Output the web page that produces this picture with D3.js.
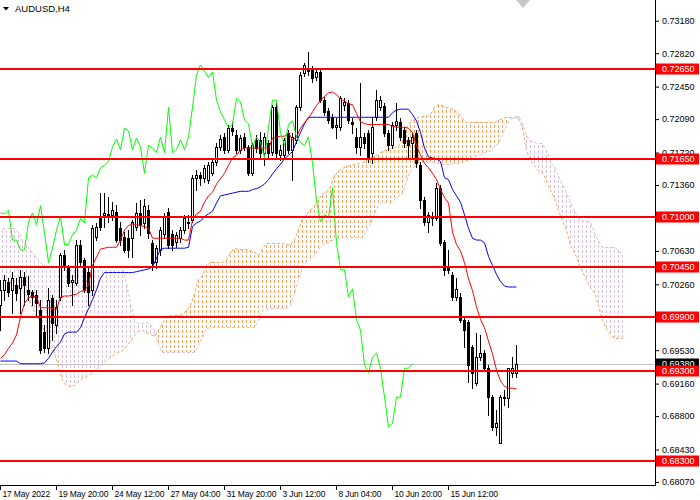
<!DOCTYPE html>
<html><head><meta charset="utf-8">
<script src="https://cdn.jsdelivr.net/npm/d3@7"></script>
<style>body{margin:0;background:#fff}svg{display:block}</style>
</head><body><svg id="c" width="700" height="500"></svg>
<script>
const title = "AUDUSD,H4";
const xTickIdx = [0,14,28,42,56,70,84,98,112];
const xTickLabels = ["17 May 2022","19 May 20:00","24 May 12:00","27 May 04:00","31 May 20:00","3 Jun 12:00","8 Jun 04:00","10 Jun 20:00","15 Jun 12:00"];
const yTicks = [0.7318,0.7282,0.7245,0.7209,0.7172,0.7136,0.7063,0.7026,0.6953,0.6916,0.6880,0.6843,0.6807];
const levels = [0.7265,0.7165,0.7100,0.7045,0.6990,0.6930,0.6830];
const currentPrice = 0.6938;

const opens = [0.7003,0.7020,0.7029,0.7020,0.7025,0.7022,0.7034,0.7020,0.7018,0.7014,
0.6998,0.6973,0.6955,0.7011,0.6981,0.7012,0.7059,0.7044,0.7029,0.7027,
0.7070,0.7053,0.7040,0.7020,0.7078,0.7101,0.7103,0.7103,0.7103,0.7106,
0.7088,0.7078,0.7077,0.7077,0.7090,0.7105,0.7094,0.7108,0.7072,0.7051,
0.7064,0.7082,0.7106,0.7082,0.7073,0.7077,0.7086,0.7095,0.7097,0.7144,
0.7147,0.7144,0.7142,0.7149,0.7162,0.7178,0.7189,0.7175,0.7199,0.7191,
0.7175,0.7189,0.7178,0.7149,0.7186,0.7186,0.7172,0.7183,0.7173,0.7222,
0.7169,0.7169,0.7194,0.7175,0.7186,0.7222,0.7260,0.7265,0.7265,0.7256,
0.7261,0.7230,0.7218,0.7211,0.7200,0.7200,0.7225,0.7227,0.7206,0.7189,
0.7178,0.7189,0.7194,0.7172,0.7211,0.7222,0.7224,0.7194,0.7180,0.7203,
0.7206,0.7197,0.7186,0.7183,0.7194,0.7158,0.7119,0.7095,0.7101,0.7099,
0.7133,0.7073,0.7044,0.7036,0.7012,0.7012,0.6987,0.6984,0.6957,0.6917,
0.6945,0.6950,0.6933,0.6901,0.6868,0.6850,0.6900,0.6900,0.6928,0.6928];
const highs = [0.7031,0.7036,0.7033,0.7040,0.7033,0.7042,0.7040,0.7035,0.7020,0.7020,
0.7009,0.6981,0.7022,0.7014,0.7009,0.7061,0.7064,0.7047,0.7036,0.7075,
0.7075,0.7055,0.7044,0.7092,0.7094,0.7127,0.7127,0.7123,0.7117,0.7114,
0.7095,0.7084,0.7086,0.7097,0.7116,0.7119,0.7121,0.7114,0.7075,0.7070,
0.7090,0.7105,0.7111,0.7086,0.7084,0.7090,0.7103,0.7103,0.7147,0.7153,
0.7150,0.7158,0.7162,0.7166,0.7183,0.7191,0.7194,0.7203,0.7206,0.7197,
0.7191,0.7194,0.7180,0.7183,0.7191,0.7195,0.7194,0.7186,0.7225,0.7227,
0.7180,0.7188,0.7197,0.7194,0.7225,0.7261,0.7271,0.7283,0.7268,0.7266,
0.7263,0.7234,0.7221,0.7215,0.7210,0.7235,0.7232,0.7230,0.7210,0.7199,
0.7249,0.7194,0.7197,0.7211,0.7241,0.7235,0.7227,0.7197,0.7206,0.7227,
0.7210,0.7200,0.7189,0.7194,0.7197,0.7162,0.7123,0.7106,0.7106,0.7138,
0.7136,0.7075,0.7064,0.7040,0.7033,0.7016,0.6989,0.6987,0.6959,0.6972,
0.6970,0.6953,0.6937,0.6903,0.6887,0.6903,0.6909,0.6933,0.6945,0.6959];
const lows = [0.6975,0.7009,0.7013,0.6994,0.7009,0.6994,0.7003,0.7009,0.7003,0.6992,
0.6950,0.6951,0.6950,0.6964,0.6972,0.7009,0.7042,0.7024,0.7003,0.7025,
0.7047,0.7018,0.7003,0.7014,0.7075,0.7086,0.7090,0.7095,0.7097,0.7073,
0.7070,0.7062,0.7056,0.7056,0.7086,0.7081,0.7088,0.7077,0.7042,0.7044,
0.7059,0.7077,0.7066,0.7064,0.7067,0.7073,0.7083,0.7088,0.7095,0.7131,
0.7136,0.7139,0.7138,0.7147,0.7158,0.7175,0.7172,0.7173,0.7191,0.7172,
0.7172,0.7175,0.7147,0.7147,0.7173,0.7166,0.7158,0.7166,0.7169,0.7166,
0.7164,0.7166,0.7172,0.7142,0.7183,0.7219,0.7257,0.7258,0.7250,0.7252,
0.7228,0.7214,0.7205,0.7199,0.7188,0.7197,0.7219,0.7205,0.7194,0.7172,
0.7169,0.7177,0.7162,0.7160,0.7208,0.7219,0.7190,0.7175,0.7177,0.7197,
0.7186,0.7178,0.7167,0.7166,0.7156,0.7111,0.7092,0.7084,0.7092,0.7097,
0.7070,0.7036,0.7039,0.7009,0.7009,0.6984,0.6957,0.6918,0.6911,0.6915,
0.6942,0.6931,0.6881,0.6865,0.6859,0.6850,0.6892,0.6890,0.6923,0.6923];
const closes = [0.7020,0.7031,0.7018,0.7033,0.7016,0.7034,0.7025,0.7015,0.7012,0.7005,
0.6953,0.6955,0.7009,0.6983,0.7001,0.7059,0.7047,0.7027,0.7031,0.7070,
0.7051,0.7020,0.7018,0.7088,0.7090,0.7090,0.7105,0.7104,0.7108,0.7075,
0.7075,0.7064,0.7064,0.7095,0.7105,0.7092,0.7113,0.7083,0.7050,0.7066,
0.7086,0.7101,0.7070,0.7070,0.7081,0.7086,0.7099,0.7094,0.7144,0.7147,
0.7144,0.7155,0.7158,0.7162,0.7178,0.7187,0.7175,0.7199,0.7196,0.7175,
0.7188,0.7178,0.7149,0.7180,0.7177,0.7172,0.7189,0.7172,0.7222,0.7172,
0.7175,0.7186,0.7175,0.7189,0.7222,0.7258,0.7269,0.7262,0.7255,0.7261,
0.7230,0.7217,0.7208,0.7200,0.7203,0.7232,0.7228,0.7208,0.7204,0.7178,
0.7189,0.7183,0.7166,0.7200,0.7230,0.7230,0.7194,0.7180,0.7203,0.7207,
0.7189,0.7183,0.7180,0.7189,0.7160,0.7119,0.7095,0.7103,0.7100,0.7133,
0.7072,0.7042,0.7042,0.7012,0.7021,0.6987,0.6975,0.6937,0.6928,0.6945,
0.6950,0.6933,0.6901,0.6868,0.6872,0.6901,0.6901,0.6933,0.6933,0.6938];

const tenkan = [0.6944,0.6948,0.6955,0.6961,0.6970,0.6990,0.7005,0.7011,0.7013,0.7012,
0.7000,0.7000,0.7000,0.6999,0.6998,0.7012,0.7013,0.7013,0.7014,0.7015,
0.7018,0.7019,0.7025,0.7047,0.7056,0.7065,0.7066,0.7067,0.7067,0.7067,
0.7075,0.7086,0.7091,0.7093,0.7092,0.7091,0.7090,0.7088,0.7077,0.7077,
0.7077,0.7077,0.7077,0.7077,0.7077,0.7077,0.7075,0.7075,0.7097,0.7104,
0.7107,0.7117,0.7124,0.7128,0.7137,0.7143,0.7149,0.7158,0.7166,0.7169,
0.7175,0.7177,0.7177,0.7177,0.7177,0.7177,0.7177,0.7176,0.7188,0.7189,
0.7190,0.7190,0.7194,0.7186,0.7189,0.7199,0.7205,0.7210,0.7217,0.7224,
0.7230,0.7234,0.7238,0.7239,0.7236,0.7231,0.7229,0.7226,0.7225,0.7215,
0.7206,0.7204,0.7203,0.7203,0.7203,0.7203,0.7203,0.7203,0.7201,0.7200,
0.7200,0.7200,0.7199,0.7194,0.7180,0.7169,0.7160,0.7155,0.7149,0.7142,
0.7131,0.7122,0.7116,0.7084,0.7070,0.7063,0.7050,0.7032,0.7019,0.7001,
0.6987,0.6978,0.6963,0.6949,0.6931,0.6919,0.6913,0.6911,0.6911,0.6910];
const kijun = [0.6941,0.6941,0.6941,0.6941,0.6941,0.6938,0.6938,0.6938,0.6938,0.6938,
0.6938,0.6939,0.6944,0.6951,0.6957,0.6962,0.6971,0.6973,0.6973,0.6973,
0.6978,0.6989,0.6999,0.7009,0.7020,0.7033,0.7039,0.7039,0.7039,0.7039,
0.7039,0.7039,0.7039,0.7039,0.7040,0.7041,0.7042,0.7043,0.7045,0.7055,
0.7065,0.7066,0.7066,0.7066,0.7066,0.7066,0.7066,0.7067,0.7090,0.7094,
0.7096,0.7101,0.7104,0.7107,0.7116,0.7124,0.7125,0.7126,0.7127,0.7128,
0.7129,0.7129,0.7129,0.7131,0.7132,0.7134,0.7137,0.7142,0.7148,0.7154,
0.7159,0.7165,0.7169,0.7173,0.7184,0.7194,0.7204,0.7211,0.7211,0.7211,
0.7211,0.7211,0.7211,0.7211,0.7211,0.7211,0.7211,0.7211,0.7211,0.7211,
0.7211,0.7211,0.7211,0.7211,0.7211,0.7211,0.7211,0.7211,0.7216,0.7219,
0.7220,0.7220,0.7220,0.7214,0.7207,0.7194,0.7177,0.7167,0.7166,0.7165,
0.7162,0.7144,0.7142,0.7131,0.7124,0.7117,0.7103,0.7088,0.7077,0.7075,
0.7075,0.7072,0.7057,0.7047,0.7037,0.7029,0.7024,0.7023,0.7023,0.7023];
const senkouA = [0.7033,0.7030,0.7026,0.7024,0.7021,0.7019,0.7013,0.7005,0.6996,0.6988,
0.6979,0.6971,0.6961,0.6950,0.6936,0.6920,0.6915,0.6913,0.6915,0.6919,
0.6922,0.6924,0.6927,0.6930,0.6934,0.6939,0.6942,0.6946,0.6949,0.6951,
0.6953,0.6958,0.6963,0.6970,0.6974,0.6975,0.6973,0.6971,0.6969,0.6975,
0.6983,0.6990,0.6992,0.6992,0.6992,0.6993,0.6998,0.7003,0.7016,0.7032,
0.7036,0.7047,0.7051,0.7051,0.7051,0.7051,0.7054,0.7062,0.7066,0.7065,
0.7065,0.7065,0.7064,0.7062,0.7058,0.7066,0.7072,0.7072,0.7072,0.7072,
0.7072,0.7071,0.7070,0.7076,0.7087,0.7099,0.7104,0.7108,0.7114,0.7120,
0.7127,0.7128,0.7135,0.7147,0.7152,0.7155,0.7157,0.7158,0.7159,0.7160,
0.7162,0.7164,0.7166,0.7168,0.7170,0.7174,0.7176,0.7177,0.7178,0.7179,
0.7186,0.7200,0.7206,0.7209,0.7211,0.7212,0.7212,0.7215,0.7222,0.7226,
0.7225,0.7222,0.7221,0.7219,0.7216,0.7210,0.7206,0.7206,0.7206,0.7206,
0.7206,0.7206,0.7206,0.7206,0.7208,0.7210,0.7211,0.7211,0.7211,0.7210,
0.7200,0.7175,0.7164,0.7158,0.7153,0.7150,0.7142,0.7131,0.7122,0.7108,
0.7097,0.7086,0.7070,0.7062,0.7051,0.7041,0.7031,0.7023,0.7018,0.7003,
0.6987,0.6978,0.6971,0.6967,0.6966,0.6966];
const senkouB = [0.7088,0.7088,0.7088,0.7088,0.7084,0.7075,0.7070,0.7064,0.7059,0.7053,
0.7049,0.7046,0.7046,0.7046,0.7046,0.7046,0.7046,0.7046,0.7046,0.7046,
0.7046,0.7046,0.7046,0.7046,0.7046,0.7046,0.7046,0.7046,0.7046,0.7046,
0.7044,0.7027,0.7005,0.6987,0.6983,0.6983,0.6984,0.6982,0.6975,0.6959,
0.6951,0.6951,0.6951,0.6951,0.6951,0.6951,0.6951,0.6951,0.6951,0.6959,
0.6968,0.6978,0.6979,0.6979,0.6979,0.6979,0.6979,0.6979,0.6979,0.6979,
0.6979,0.6979,0.6979,0.6979,0.6987,0.6998,0.6999,0.7000,0.7000,0.7000,
0.7000,0.7000,0.7003,0.7016,0.7032,0.7045,0.7051,0.7054,0.7059,0.7065,
0.7070,0.7072,0.7074,0.7076,0.7077,0.7078,0.7078,0.7078,0.7078,0.7078,
0.7078,0.7086,0.7093,0.7105,0.7114,0.7117,0.7117,0.7116,0.7121,0.7124,
0.7127,0.7140,0.7153,0.7157,0.7159,0.7162,0.7162,0.7162,0.7162,0.7160,
0.7159,0.7159,0.7159,0.7160,0.7160,0.7162,0.7163,0.7167,0.7168,0.7169,
0.7171,0.7173,0.7175,0.7179,0.7182,0.7192,0.7203,0.7209,0.7211,0.7212,
0.7205,0.7191,0.7186,0.7184,0.7183,0.7183,0.7175,0.7163,0.7156,0.7146,
0.7137,0.7128,0.7117,0.7107,0.7099,0.7097,0.7096,0.7095,0.7084,0.7074,
0.7067,0.7067,0.7067,0.7067,0.7064,0.7060];
const chikou = [0.7105,0.7104,0.7108,0.7075,0.7075,0.7064,0.7064,0.7095,0.7105,0.7092,
0.7113,0.7083,0.7050,0.7066,0.7086,0.7101,0.7070,0.7070,0.7081,0.7086,
0.7099,0.7094,0.7144,0.7147,0.7144,0.7155,0.7158,0.7162,0.7178,0.7187,
0.7175,0.7199,0.7196,0.7175,0.7188,0.7178,0.7149,0.7180,0.7177,0.7172,
0.7189,0.7172,0.7222,0.7172,0.7175,0.7186,0.7175,0.7189,0.7222,0.7258,
0.7269,0.7262,0.7255,0.7261,0.7230,0.7217,0.7208,0.7200,0.7203,0.7232,
0.7228,0.7208,0.7204,0.7178,0.7189,0.7183,0.7166,0.7200,0.7230,0.7230,
0.7194,0.7180,0.7203,0.7207,0.7189,0.7183,0.7180,0.7189,0.7160,0.7119,
0.7095,0.7103,0.7100,0.7133,0.7072,0.7042,0.7042,0.7012,0.7021,0.6987,
0.6975,0.6937,0.6928,0.6945,0.6950,0.6933,0.6901,0.6868,0.6872,0.6901,
0.6901,0.6933,0.6933,0.6938];

const W = 700, H = 500, PR = 655, PB = 485;
const FONT = "'Liberation Sans', Arial, sans-serif";
const svg = d3.select('#c');
const x = d3.scaleLinear().domain([0, 163.75]).range([0, PR]);
const y = d3.scaleLinear().domain([0.680368, 0.734093]).range([PB, 0]);
const px = i => Math.round(x(i));
const py = v => Math.round(y(v));

svg.append('rect').attr('width', W).attr('height', H).attr('fill', '#fff');
svg.append('defs').append('clipPath').attr('id', 'plot')
  .append('rect').attr('x', 0).attr('y', 0).attr('width', PR).attr('height', PB);
const g = svg.append('g').attr('clip-path', 'url(#plot)');

// Kumo hatch
const kumoData = senkouA.map((a, i) => ({i, a, b: senkouB[i]}));
g.append('g').attr('shape-rendering', 'crispEdges')
  .selectAll('line').data(kumoData).join('line')
  .attr('x1', d => px(d.i) + 2.5).attr('x2', d => px(d.i) + 2.5)
  .attr('y1', d => Math.min(py(d.a), py(d.b)))
  .attr('y2', d => Math.max(py(d.a), py(d.b)))
  .attr('stroke', d => d.a >= d.b ? '#F4A460' : '#D8BFD8')
  .attr('stroke-width', 1)
  .attr('stroke-dasharray', '3,2')
  .attr('stroke-dashoffset', d => Math.min(py(d.a), py(d.b)) % 5);

const spanLine = d3.line().x((v, i) => px(i) + 2.5).y(v => py(v) + 0.5);
g.append('path').attr('d', spanLine(senkouB)).attr('fill', 'none')
  .attr('stroke', '#D8BFD8').attr('stroke-width', 1).attr('stroke-dasharray', '3,2');
g.append('path').attr('d', spanLine(senkouA)).attr('fill', 'none')
  .attr('stroke', '#F4A460').attr('stroke-width', 1).attr('stroke-dasharray', '3,2');

// current price line
g.append('line').attr('x1', 0).attr('x2', PR)
  .attr('y1', py(currentPrice) + 0.5).attr('y2', py(currentPrice) + 0.5)
  .attr('stroke', '#C0C0C0').attr('stroke-width', 1);

// candles
const bars = opens.map((o, i) => ({i, o, h: highs[i], l: lows[i], c: closes[i]}));
const cg = g.append('g').attr('shape-rendering', 'crispEdges');
const cs = cg.selectAll('g').data(bars).join('g');
cs.append('line')
  .attr('x1', d => px(d.i) + 0.5).attr('x2', d => px(d.i) + 0.5)
  .attr('y1', d => py(d.h)).attr('y2', d => py(d.l) + 1)
  .attr('stroke', '#000').attr('stroke-width', 1);
cs.append('rect')
  .attr('x', d => px(d.i) - 0.5)
  .attr('y', d => py(Math.max(d.o, d.c)) + 0.5)
  .attr('width', 2)
  .attr('height', d => Math.max(1, py(Math.min(d.o, d.c)) - py(Math.max(d.o, d.c))))
  .attr('fill', d => d.c >= d.o ? '#fff' : '#000')
  .attr('stroke', '#000').attr('stroke-width', 1);

// Ichimoku lines
const ln = d3.line().x((v, i) => px(i) + 0.5).y(v => y(v));
g.append('path').attr('d', ln(kijun)).attr('fill', 'none').attr('stroke', '#0000FF').attr('stroke-width', 1);
g.append('path').attr('d', ln(tenkan)).attr('fill', 'none').attr('stroke', '#FF0000').attr('stroke-width', 1);
g.append('path').attr('d', ln(chikou)).attr('fill', 'none').attr('stroke', '#00FF00').attr('stroke-width', 1);

// horizontal levels
g.append('g').selectAll('line').data(levels).join('line')
  .attr('x1', 0).attr('x2', PR).attr('y1', d => py(d)).attr('y2', d => py(d))
  .attr('stroke', '#FF0000').attr('stroke-width', 2);

// frame
svg.append('line').attr('x1', PR + 0.5).attr('x2', PR + 0.5).attr('y1', 0).attr('y2', PB + 1)
  .attr('stroke', '#000').attr('shape-rendering', 'crispEdges');
svg.append('line').attr('x1', 0).attr('x2', PR + 1).attr('y1', PB + 0.5).attr('y2', PB + 0.5)
  .attr('stroke', '#000').attr('shape-rendering', 'crispEdges');

// y axis
const ya = svg.append('g').attr('transform', `translate(${PR},0)`)
  .call(d3.axisRight(y).tickValues(yTicks).tickSize(4).tickSizeOuter(0).tickFormat(d3.format('.5f')));
ya.select('.domain').remove();
ya.attr('font-family', FONT).attr('font-size', 9);
ya.selectAll('text').attr('x', 7).attr('fill', '#000');
ya.selectAll('line').attr('stroke', '#000');

// x axis
const xa = svg.append('g').attr('transform', `translate(0,${PB})`)
  .call(d3.axisBottom(x).tickValues(xTickIdx).tickFormat((d, i) => xTickLabels[i]).tickSize(5).tickSizeOuter(0));
xa.select('.domain').remove();
xa.attr('font-family', FONT).attr('font-size', 8.5);
xa.selectAll('text').attr('text-anchor', 'start').attr('x', 2).attr('y', 6)
  .attr('letter-spacing', '-0.15px').attr('fill', '#000');
xa.selectAll('line').attr('stroke', '#000');

// price labels
function tag(v, bg) {
  const yy = py(v);
  svg.append('rect').attr('x', PR + 1).attr('y', yy - 5.5).attr('width', 43).attr('height', 11).attr('fill', bg);
  svg.append('text').attr('x', PR + 7).attr('y', yy).attr('dy', '0.35em')
    .attr('font-family', FONT).attr('font-size', 9).attr('fill', '#fff').text(d3.format('.5f')(v));
}
tag(currentPrice, '#000');
levels.forEach(v => tag(v, '#FF0000'));

// chart shift marker
svg.append('path').attr('d', 'M516,0 L530,0 L523,8 Z').attr('fill', '#C8C8C8');

// title
svg.append('path').attr('d', 'M3,7 L9,7 L6,10.5 Z').attr('fill', '#000');
svg.append('text').attr('x', 15).attr('y', 11.5).attr('font-family', FONT).attr('font-size', 9.5)
  .attr('fill', '#000').text(title);
</script></body></html>
